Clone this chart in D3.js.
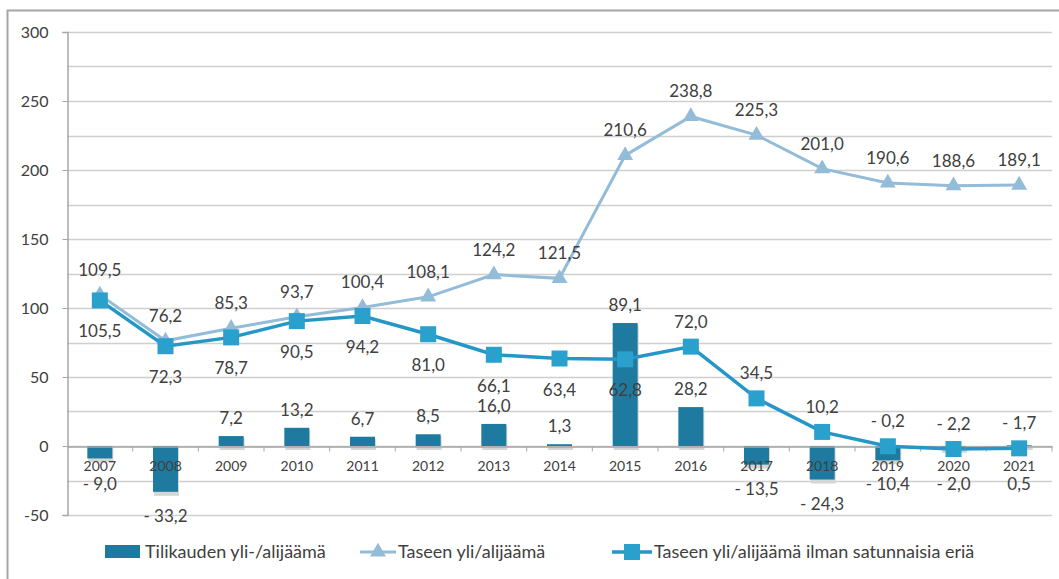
<!DOCTYPE html>
<html>
<head>
<meta charset="utf-8">
<script src="https://cdn.jsdelivr.net/npm/d3@7"></script>
<style>
  body { margin: 0; background: #fff; }
  text { font-family: Lato, "Open Sans", sans-serif; fill: #404040; }
</style>
</head>
<body>
<div class="chart"></div>
<script>
var years = ["2007", "2008", "2009", "2010", "2011", "2012", "2013", "2014",
  "2015", "2016", "2017", "2018", "2019", "2020", "2021"];
var tilikausi = [-9.0, -33.2, 7.2, 13.2, 6.7, 8.5, 16.0, 1.3, 89.1, 28.2, -13.5, -24.3, -10.4, -2.0, 0.5];
var tase = [109.5, 76.2, 85.3, 93.7, 100.4, 108.1, 124.2, 121.5, 210.6, 238.8, 225.3, 201.0, 190.6, 188.6, 189.1];
var taseIlman = [105.5, 72.3, 78.7, 90.5, 94.2, 81.0, 66.1, 63.4, 62.8, 72.0, 34.5, 10.2, -0.2, -2.2, -1.7];
var yTicks = [-50, 0, 50, 100, 150, 200, 250, 300];
var legendNames = ["Tilikauden yli-/alijäämä", "Taseen yli/alijäämä", "Taseen yli/alijäämä ilman satunnaisia eriä"];

var svgWidth = 1059;
var svgHeight = 579;

var colBar = "#1f7a9f";
var colTase = "#93bcd8";
var colIlman = "#2597c6";

var svg = d3.select(".chart").append("svg")
  .attr("width", svgWidth)
  .attr("height", svgHeight);

// outer frame
svg.append("path")
  .attr("d", "M7.5,579 V10.5 H1059")
  .attr("fill", "none")
  .attr("stroke", "#a6a6a6")
  .attr("stroke-width", 2);

var x = d3.scaleBand().domain(years).range([67, 1052]);
var y = d3.scaleLinear().domain([-50, 300]).range([515, 32]);

// format like "- 9,0"
function fmt(v) {
  var s = Math.abs(v).toFixed(1).replace(".", ",");
  return v < 0 ? "- " + s : s;
}

// gridlines every 25
var grid = d3.range(-50, 301, 25);
svg.append("g").selectAll("line")
  .data(grid).enter().append("line")
  .attr("x1", 67).attr("x2", 1052)
  .attr("y1", d => Math.round(y(d)) + 0.5)
  .attr("y2", d => Math.round(y(d)) + 0.5)
  .attr("stroke", "#cfcfcf")
  .attr("stroke-width", 1.5);

// y axis
var yAxis = svg.append("g")
  .attr("transform", "translate(67.5,0)")
  .call(d3.axisLeft(y).tickValues(yTicks).tickSize(5).tickPadding(14).tickFormat(d => d));
yAxis.select(".domain").attr("stroke", "#a6a6a6").attr("stroke-width", 1.5);
yAxis.selectAll(".tick line").attr("stroke", "#a6a6a6");
yAxis.selectAll("text").style("font-size", "16px").attr("fill", "#404040");

// bars with a soft shadow
var bw = 25;
svg.append("g").selectAll("rect")
  .data(tilikausi).enter().append("rect")
  .attr("x", (d, i) => x(years[i]) + x.bandwidth() / 2 - bw / 2 + 1)
  .attr("y", d => Math.min(y(d), y(0)) + 2)
  .attr("width", bw)
  .attr("height", d => Math.abs(y(d) - y(0)) + 2)
  .attr("fill", "#d6d6d6");
svg.append("g").selectAll("rect")
  .data(tilikausi).enter().append("rect")
  .attr("x", (d, i) => x(years[i]) + x.bandwidth() / 2 - bw / 2)
  .attr("y", d => Math.min(y(d), y(0)))
  .attr("width", bw)
  .attr("height", d => Math.abs(y(d) - y(0)))
  .attr("fill", colBar);

// x axis at zero
var xAxis = svg.append("g")
  .attr("transform", `translate(0,${Math.round(y(0)) + 0.5})`)
  .call(d3.axisBottom(x).tickSize(0).tickPadding(15));
xAxis.select(".domain").attr("stroke", "#a6a6a6").attr("stroke-width", 1.5);
xAxis.selectAll("text").style("font-size", "14px").attr("fill", "#404040");
// category boundary ticks
xAxis.selectAll(".bound").data(years).enter().append("line")
  .attr("x1", d => x(d) + x.bandwidth())
  .attr("x2", d => x(d) + x.bandwidth())
  .attr("y1", 0).attr("y2", 5)
  .attr("stroke", "#a6a6a6");

var cx = (d, i) => x(years[i]) + x.bandwidth() / 2;
var line = d3.line().x((d, i) => cx(d, i)).y(d => y(d));

// Taseen yli/alijaama
svg.append("path").datum(tase)
  .attr("d", line)
  .attr("fill", "none")
  .attr("stroke", colTase)
  .attr("stroke-width", 3);
var tri = d3.symbol().type(d3.symbolTriangle).size(110);
svg.append("g").selectAll("path")
  .data(tase).enter().append("path")
  .attr("d", tri)
  .attr("transform", (d, i) => `translate(${cx(d, i)},${y(d)})`)
  .attr("fill", colTase);

// ilman satunnaisia eria
svg.append("path").datum(taseIlman)
  .attr("d", line)
  .attr("fill", "none")
  .attr("stroke", colIlman)
  .attr("stroke-width", 3.5);
svg.append("g").selectAll("rect")
  .data(taseIlman).enter().append("rect")
  .attr("x", (d, i) => cx(d, i) - 8)
  .attr("y", d => y(d) - 8)
  .attr("width", 16).attr("height", 16)
  .attr("fill", "#2aa0cc");

// data labels
var lab = svg.append("g").style("font-size", "17px").attr("text-anchor", "middle");

lab.selectAll(".lt").data(tase).enter().append("text")
  .attr("x", (d, i) => cx(d, i))
  .attr("y", d => y(d) - 19)
  .text(fmt);

lab.selectAll(".ls").data(taseIlman).enter().append("text")
  .attr("x", (d, i) => cx(d, i))
  .attr("y", (d, i) => i < 9 ? y(d) + 37 : y(d) - 19)
  .text(fmt);

lab.selectAll(".lb").data(tilikausi).enter().append("text")
  .attr("x", (d, i) => cx(d, i))
  .attr("y", d => d >= 1 ? y(d) - 12 : Math.max(y(d) + 30, y(0) + 44))
  .text(fmt);

// legend
var lg = svg.append("g").attr("transform", "translate(0,552)");
lg.append("rect").attr("x", 105).attr("y", -7).attr("width", 35).attr("height", 13).attr("fill", colBar);
lg.append("text").attr("x", 145).attr("y", 6).style("font-size", "18px").text(legendNames[0]);

lg.append("line").attr("x1", 360).attr("x2", 396).attr("y1", 0).attr("y2", 0)
  .attr("stroke", colTase).attr("stroke-width", 3);
lg.append("path").attr("d", tri).attr("transform", "translate(378,0)").attr("fill", colTase);
lg.append("text").attr("x", 398).attr("y", 6).style("font-size", "18px").text(legendNames[1]);

lg.append("line").attr("x1", 612).attr("x2", 652).attr("y1", 0).attr("y2", 0)
  .attr("stroke", colIlman).attr("stroke-width", 3.5);
lg.append("rect").attr("x", 624).attr("y", -8).attr("width", 16).attr("height", 16).attr("fill", "#2aa0cc");
lg.append("text").attr("x", 654).attr("y", 6).style("font-size", "18px").text(legendNames[2]);
</script>
</body>
</html>
